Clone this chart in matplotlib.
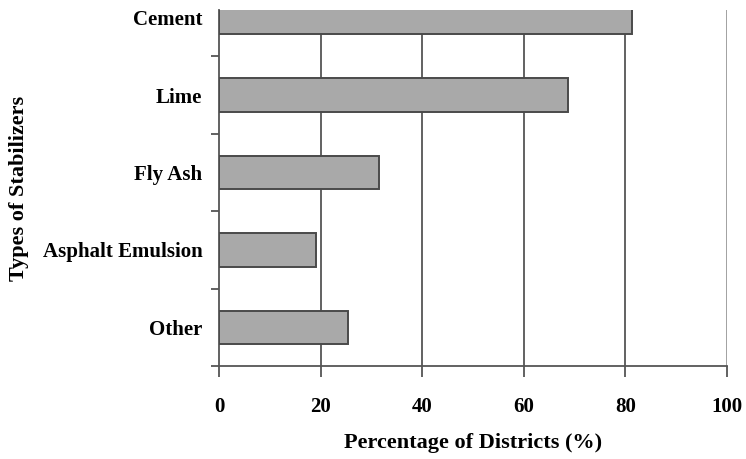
import numpy as np
import matplotlib.pyplot as plt
from matplotlib.ticker import FixedLocator, NullFormatter

categories = ['Other', 'Asphalt Emulsion', 'Fly Ash', 'Lime', 'Cement']
percentages = [25.3, 19.1, 31.4, 68.8, 81.3]
x_ticks = [0, 20, 40, 60, 80, 100]

plt.rcParams['font.family'] = ['Liberation Serif', 'DejaVu Serif']

fig = plt.figure(figsize=(7.46, 4.59), dpi=100)
ax = fig.add_axes([0.2936, 0.2026, 0.6809, 0.7756])

pos = np.arange(len(categories))
ax.barh(pos, percentages, height=0.43, color='#a9a9a9', edgecolor='#4a4a4a',
        linewidth=1.4, zorder=3)

ax.set_xlim(0, 100)
ax.set_ylim(-0.5, 4.1)

# vertical gridlines
for x in x_ticks[1:]:
    col = '#9a9a9a' if x == 100 else '#555555'
    ax.axvline(x, color=col, linewidth=1.3, zorder=1)

ax.set_xticks(x_ticks)
ax.set_xticklabels([str(v) for v in x_ticks], fontsize=15, fontweight='bold')
ax.tick_params(axis='x', direction='out', length=8, width=1.3, color='#555555',
               pad=14)

ax.set_yticks(pos)
ax.set_yticklabels(categories, fontsize=15, fontweight='bold')
ax.tick_params(axis='y', which='major', length=0, pad=12)
ax.yaxis.set_minor_locator(FixedLocator(np.arange(-0.5, 4.0, 1.0)))
ax.yaxis.set_minor_formatter(NullFormatter())
ax.tick_params(axis='y', which='minor', direction='out', length=6, width=1.3,
               color='#555555')

for side in ['top', 'right']:
    ax.spines[side].set_visible(False)
for side in ['left', 'bottom']:
    ax.spines[side].set_color('#555555')
    ax.spines[side].set_linewidth(1.3)

ax.set_xlabel('Percentage of Districts (%)', fontsize=16, fontweight='bold',
              labelpad=12)
ax.set_ylabel('Types of Stabilizers', fontsize=16, fontweight='bold',
              labelpad=10)

fig.savefig('out.png', dpi=100)
